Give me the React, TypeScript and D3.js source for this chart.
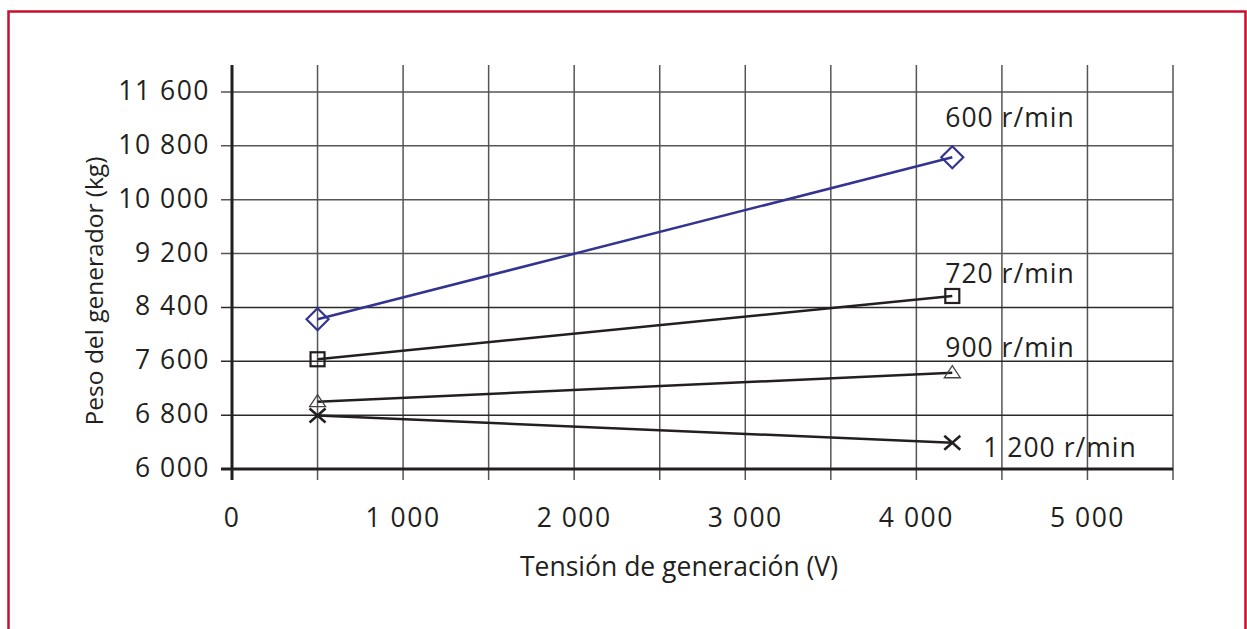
import { useRef, useEffect } from "react";
import * as d3 from "d3";

// tension de generacion (V)
const voltages = [500, 4210];
const rpm600 = [8225, 10630];
const rpm720 = [7630, 8570];
const rpm900 = [7000, 7430];
const rpm1200 = [6795, 6390];

const seriesLabels = ["600 r/min", "720 r/min", "900 r/min", "1 200 r/min"];
const xTicks = [0, 1000, 2000, 3000, 4000, 5000];
const xGrid = [500, 1000, 1500, 2000, 2500, 3000, 3500, 4000, 4500, 5000, 5500];
const yTicks = [6000, 6800, 7600, 8400, 9200, 10000, 10800, 11600];

const fmt = (v: number) => d3.format(",")(v).replace(/,/g, " ");

export default function App() {
  const ref = useRef<SVGSVGElement>(null);

  useEffect(() => {
    const svg = d3.select(ref.current);
    svg.selectAll("*").remove();

    const x = d3.scaleLinear().domain([0, 5500]).range([232, 1173]);
    const y = d3.scaleLinear().domain([6000, 11600]).range([469, 92]);
    const yTop = 65;
    const font = "'Open Sans', 'Noto Sans', sans-serif";
    const ink = "#231f20";

    // frame
    svg.append("rect")
      .attr("x", 8.5).attr("y", 11.5)
      .attr("width", 1237).attr("height", 700)
      .attr("fill", "none")
      .attr("stroke", "#c8102e")
      .attr("stroke-width", 2.5);

    const g = svg.append("g");

    // vertical grid
    g.selectAll(".vgrid")
      .data(xGrid)
      .enter().append("line")
      .attr("x1", (d) => x(d)).attr("x2", (d) => x(d))
      .attr("y1", yTop).attr("y2", y(6000) + 11)
      .attr("stroke", "#555")
      .attr("stroke-width", 1.5);

    // horizontal grid
    g.selectAll(".hgrid")
      .data(yTicks.slice(1))
      .enter().append("line")
      .attr("x1", x(0) - 11).attr("x2", x(5500))
      .attr("y1", (d) => y(d)).attr("y2", (d) => y(d))
      .attr("stroke", (d) => (d <= 8400 ? "#2a2a2a" : "#555"))
      .attr("stroke-width", 1.5);

    // axes
    g.append("line")
      .attr("x1", x(0) - 11).attr("x2", x(5500))
      .attr("y1", y(6000)).attr("y2", y(6000))
      .attr("stroke", ink).attr("stroke-width", 3);
    g.append("line")
      .attr("x1", x(0)).attr("x2", x(0))
      .attr("y1", yTop).attr("y2", y(6000) + 11)
      .attr("stroke", ink).attr("stroke-width", 3);

    // tick labels
    g.selectAll(".ylab")
      .data(yTicks)
      .enter().append("text")
      .attr("x", x(0) - 22)
      .attr("y", (d) => y(d) + 8)
      .attr("text-anchor", "end")
      .attr("font-family", font)
      .attr("font-size", 26.5)
      .attr("letter-spacing", 1.5)
      .attr("fill", ink)
      .text((d) => fmt(d));

    g.selectAll(".xlab")
      .data(xTicks)
      .enter().append("text")
      .attr("x", (d) => x(d))
      .attr("y", y(6000) + 58)
      .attr("text-anchor", "middle")
      .attr("font-family", font)
      .attr("font-size", 26.5)
      .attr("letter-spacing", 1.5)
      .attr("fill", ink)
      .text((d) => fmt(d));

    // axis titles
    g.append("text")
      .attr("x", 679).attr("y", 576)
      .attr("text-anchor", "middle")
      .attr("font-family", font)
      .attr("font-size", 26.5)
      .attr("fill", ink)
      .text("Tensión de generación (V)");

    g.append("text")
      .attr("transform", "translate(103, 291) rotate(-90)")
      .attr("text-anchor", "middle")
      .attr("font-family", font)
      .attr("font-size", 24.5)
      .attr("fill", ink)
      .text("Peso del generador (kg)");

    const line = d3.line<number>()
      .x((_, i) => x(voltages[i]))
      .y((d) => y(d));

    const blue = "#33348f";
    const series = [
      { values: rpm600, color: blue, marker: "diamond" },
      { values: rpm720, color: ink, marker: "square" },
      { values: rpm900, color: ink, marker: "triangle" },
      { values: rpm1200, color: ink, marker: "cross" },
    ];

    series.forEach((s) => {
      g.append("path")
        .datum(s.values)
        .attr("d", line)
        .attr("fill", "none")
        .attr("stroke", s.color)
        .attr("stroke-width", 2.5);

      s.values.forEach((v, i) => {
        const cx = x(voltages[i]);
        const cy = y(v);
        if (s.marker === "diamond") {
          g.append("path")
            .attr("d", `M${cx},${cy - 11}L${cx + 11},${cy}L${cx},${cy + 11}L${cx - 11},${cy}Z`)
            .attr("fill", "none").attr("stroke", s.color).attr("stroke-width", 2.2);
        } else if (s.marker === "square") {
          g.append("rect")
            .attr("x", cx - 7).attr("y", cy - 7)
            .attr("width", 14).attr("height", 14)
            .attr("fill", "none").attr("stroke", s.color).attr("stroke-width", 2.2);
        } else if (s.marker === "triangle") {
          g.append("path")
            .attr("d", `M${cx},${cy - 7}L${cx + 8},${cy + 5}L${cx - 8},${cy + 5}Z`)
            .attr("fill", "none").attr("stroke", "#444").attr("stroke-width", 1.3);
        } else {
          g.append("path")
            .attr("d", `M${cx - 8},${cy - 7}L${cx + 8},${cy + 7}M${cx - 8},${cy + 7}L${cx + 8},${cy - 7}`)
            .attr("fill", "none").attr("stroke", s.color).attr("stroke-width", 2.5);
        }
      });
    });

    // series labels, placed beside the right-hand points
    const xr = x(voltages[1]);
    const labelPos = [
      { dx: -7, y: 127 },
      { dx: -7, y: 283 },
      { dx: -7, y: 357 },
      { dx: 31, y: 457 },
    ];
    g.selectAll(".slab")
      .data(seriesLabels)
      .enter().append("text")
      .attr("x", (_, i) => xr + labelPos[i].dx)
      .attr("y", (_, i) => labelPos[i].y)
      .attr("font-family", font)
      .attr("font-size", 26.5)
      .attr("letter-spacing", 1)
      .attr("fill", ink)
      .text((d) => d);
  }, []);

  return (
    <svg
      ref={ref}
      width={1247}
      height={629}
      style={{ position: "absolute", left: 0, top: 0, background: "#fff" }}
    />
  );
}
